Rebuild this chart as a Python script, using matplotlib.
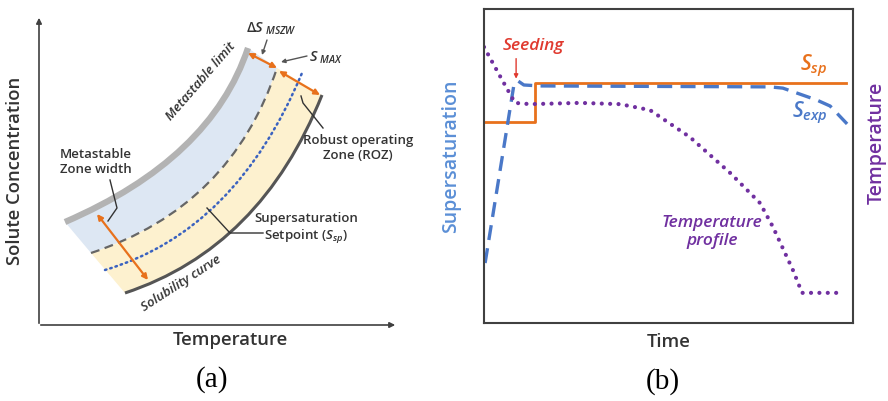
import numpy as np
import matplotlib.pyplot as plt
from matplotlib.patches import PathPatch
from matplotlib.path import Path

plt.rcParams['font.family'] = ['Open Sans', 'DejaVu Sans']
plt.rcParams['mathtext.fontset'] = 'custom'
plt.rcParams['mathtext.it'] = 'Open Sans:italic:semibold'
plt.rcParams['mathtext.rm'] = 'Open Sans:semibold'

# ---- panel (a): each curve as start / bend / end point (pixel units, y down)
limit_pts = [(65, 222), (211, 159), (248, 48)]      # metastable limit
smax_pts = [(91, 253), (231, 207), (277, 68)]       # S_MAX (dashed)
ssp_pts = [(105, 270), (236, 231), (302, 73)]       # setpoint (dotted)
sol_pts = [(125, 293), (261, 248), (322, 95)]       # solubility curve

# ---- panel (b): time courses (time 0-100, value 0-100)
sp_t = [0, 13.8, 13.8, 98.1]
sp_v = [64.0, 64.0, 76.4, 76.4]
exp_t = [0.3, 8.1, 9.2, 10.8, 15.2, 77.5, 81.0, 85.6, 90.2, 93.8, 98.4]
exp_v = [19.1, 75.8, 77.1, 75.8, 75.5, 75.2, 74.8, 72.9, 71.0, 69.1, 63.4]
temp_t = [0, 4.3, 8.4, 12.5, 26.0, 36.9, 45.0, 55.8, 66.7, 74.8, 78.3, 83.7, 86.2, 96.5]
temp_v = [87.9, 78.7, 70.1, 69.7, 70.1, 69.7, 67.8, 59.2, 47.8, 38.2, 30.6, 16.9, 9.6, 9.6]

orange = '#e8711c'
blue = '#4a78c8'
purple = '#7030a0'
dark = '#404040'
txt = '#333333'


def curve(pts):
    return Path(pts, [Path.MOVETO, Path.CURVE3, Path.CURVE3])


def zone(upper, lower):
    verts = upper + lower[::-1] + [upper[0]]
    codes = [Path.MOVETO, Path.CURVE3, Path.CURVE3,
             Path.LINETO, Path.CURVE3, Path.CURVE3, Path.CLOSEPOLY]
    return Path(verts, codes)


fig = plt.figure(figsize=(8.88, 4.01), dpi=100)
ax = fig.add_axes([0, 0, 1, 1])
ax.set_xlim(0, 888)
ax.set_ylim(401, 0)
ax.axis('off')

# axes arrows of (a)
ax.annotate('', xy=(39, 15), xytext=(39, 326),
            arrowprops=dict(arrowstyle='-|>', color=dark, lw=1.2, mutation_scale=8))
ax.annotate('', xy=(398, 325), xytext=(38, 325),
            arrowprops=dict(arrowstyle='-|>', color=dark, lw=1.2, mutation_scale=8))

# filled zones
ax.add_patch(PathPatch(zone(limit_pts, smax_pts), fc='#dde7f3', ec='none'))
ax.add_patch(PathPatch(zone(smax_pts, sol_pts), fc='#fdf1cf', ec='none'))

ax.add_patch(PathPatch(curve(limit_pts), fill=False, ec='#b3b3b3', lw=4.5,
                       capstyle='butt'))
ax.add_patch(PathPatch(curve(smax_pts), fill=False, ec='#666666', lw=1.6,
                       linestyle=(0, (4, 2.5))))
ax.add_patch(PathPatch(curve(ssp_pts), fill=False, ec='#3a62c0', lw=1.8,
                       linestyle=(0, (0.6, 1.6)), capstyle='round'))
ax.add_patch(PathPatch(curve(sol_pts), fill=False, ec='#555555', lw=2.2,
                       capstyle='butt'))

# orange double arrows
oa = dict(arrowstyle='<|-|>', color=orange, lw=1.6, mutation_scale=8,
          shrinkA=0, shrinkB=0)
ax.annotate('', xy=(248, 53), xytext=(277, 68), arrowprops=oa)
ax.annotate('', xy=(279, 71), xytext=(320, 95), arrowprops=oa)
ax.annotate('', xy=(97, 214), xytext=(148, 280), arrowprops=oa)

# pointers
ga = dict(arrowstyle='-|>', color='#555555', lw=1, mutation_scale=6,
          shrinkA=0, shrinkB=0)
ax.annotate('', xy=(262, 55), xytext=(267, 40), arrowprops=ga)
ax.annotate('', xy=(281, 62), xytext=(307, 56), arrowprops=ga)
ax.plot([110, 117, 108], [180, 208, 221], color='#333333', lw=1)
ax.plot([301, 303, 323], [96, 103, 128], color='#333333', lw=1)
ax.plot([207, 230, 263], [208, 233, 233], color='#333333', lw=1)

# texts of (a)
ax.text(15, 171, 'Solute Concentration', rotation=90, ha='center', va='center',
        fontsize=13.3, color=txt, weight='semibold')
ax.text(230, 340, 'Temperature', ha='center', va='center', fontsize=13.3,
        color=txt, weight='semibold')
ax.text(212, 380, '(a)', ha='center', va='center', fontsize=21,
        family='Liberation Serif', color='black')
ax.text(201, 81, 'Metastable limit', rotation=49, ha='center', va='center',
        fontsize=9.5, style='italic', color=txt, weight='semibold')
ax.text(181, 283, 'Solubility curve', rotation=33, ha='center', va='center',
        fontsize=9.5, style='italic', color=txt, weight='semibold')
ax.text(271, 29, r'$\Delta S_{\ MSZW}$', ha='center', va='center', fontsize=10.5,
        color=txt)
ax.text(326, 58, r'$S_{\ MAX}$', ha='center', va='center', fontsize=10.5, color=txt)
ax.text(358, 148, 'Robust operating\nZone (ROZ)', ha='center', va='center',
        fontsize=9.5, color=txt, linespacing=1.2, weight='semibold')
ax.text(96, 162, 'Metastable\nZone width', ha='center', va='center',
        fontsize=9.5, color=txt, linespacing=1.2, weight='semibold')
ax.text(306, 229, 'Supersaturation\nSetpoint ($S_{sp}$)', ha='center', va='center',
        fontsize=9.5, color=txt, linespacing=1.2, weight='semibold')

# texts around (b)
ax.text(451, 156, 'Supersaturation', rotation=90, ha='center', va='center',
        fontsize=14, color='#5b8fd6', weight='semibold')
ax.text(877, 143, 'Temperature', rotation=90, ha='center', va='center',
        fontsize=14, color=purple, weight='semibold')
ax.text(669, 342, 'Time', ha='center', va='center', fontsize=13.3, color=txt,
        weight='semibold')
ax.text(663, 382, '(b)', ha='center', va='center', fontsize=21,
        family='Liberation Serif', color='black')

# ---- panel (b)
bx = fig.add_axes([484 / 888, 78 / 401, 369 / 888, 314 / 401])
bx.set_facecolor('none')
bx.set_xlim(0, 100)
bx.set_ylim(0, 100)
bx.set_xticks([])
bx.set_yticks([])
for s in bx.spines.values():
    s.set_color(dark)
    s.set_linewidth(1.5)

bx.plot(sp_t, sp_v, color=orange, lw=2)
bx.plot(exp_t, exp_v, color=blue, lw=2.4, dashes=(4.5, 2.5))
bx.plot(temp_t, temp_v, color=purple, lw=3, linestyle=(0, (0.01, 2.0)),
        dash_capstyle='round')

bx.text(13.5, 88.2, 'Seeding', ha='center', va='center', fontsize=12.5,
        style='italic', color='#e03a2f', weight='semibold')
bx.annotate('', xy=(8.7, 77.8), xytext=(8.7, 84.2),
            arrowprops=dict(arrowstyle='-|>', color='#e03a2f', lw=1, mutation_scale=6,
                            shrinkA=0, shrinkB=0))
bx.text(89.2, 81.8, r'$S_{sp}$', ha='center', va='center', fontsize=15, color=orange)
bx.text(88.3, 66.9, r'$S_{exp}$', ha='center', va='center', fontsize=15, color=blue)
bx.text(61.8, 29.0, 'Temperature\nprofile', ha='center', va='center', fontsize=12.5,
        style='italic', color=purple, linespacing=1.1, weight='semibold')

fig.savefig('out.png', dpi=100)
